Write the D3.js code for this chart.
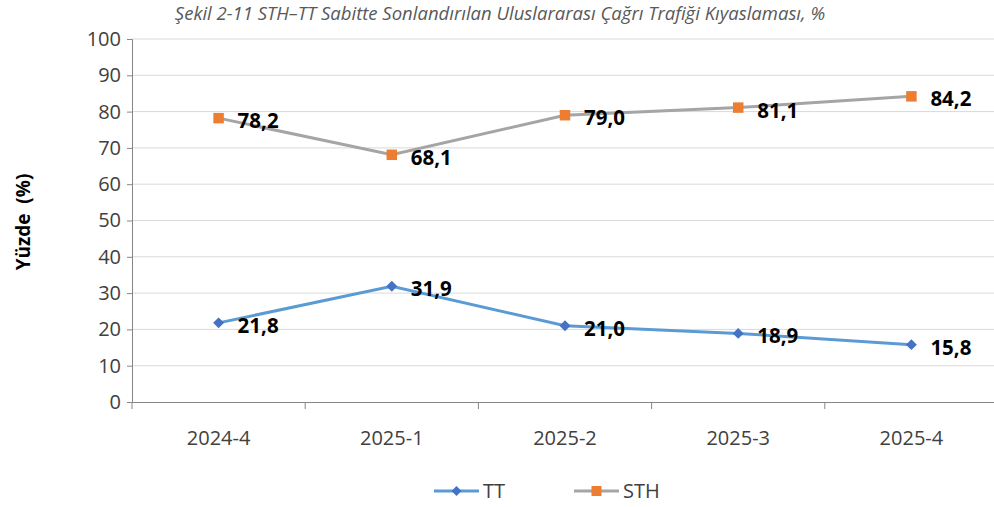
<!DOCTYPE html>
<html>
<head>
<meta charset="utf-8">
<script src="https://cdn.jsdelivr.net/npm/d3@7"></script>
<style>
  body { margin: 0; background: #fff; }
  svg { display: block; }
</style>
</head>
<body>
<svg id="chart" width="994" height="507"></svg>
<script>
let categories = ['2024-4', '2025-1', '2025-2', '2025-3', '2025-4'];
let ttValues = [21.8, 31.9, 21.0, 18.9, 15.8];
let sthValues = [78.2, 68.1, 79.0, 81.1, 84.2];
let yTicks = [0, 10, 20, 30, 40, 50, 60, 70, 80, 90, 100];

let chart = d3.select('#chart');
let font = "'Open Sans', 'Noto Sans', sans-serif";

let xScale = d3.scaleBand().domain(categories).range([132, 998]);
let yScale = d3.scaleLinear().domain([0, 100]).range([402, 39]);

// title
chart.append('text')
  .attr('x', 500).attr('y', 20)
  .attr('text-anchor', 'middle')
  .attr('font-family', font)
  .attr('font-style', 'italic')
  .attr('font-size', 18.5)
  .attr('fill', '#595959')
  .text('Şekil 2-11 STH–TT Sabitte Sonlandırılan Uluslararası Çağrı Trafiği Kıyaslaması, %');

// gridlines
chart.append('g').selectAll('line')
  .data(yTicks.filter(d => d > 0))
  .enter().append('line')
  .attr('x1', 132).attr('x2', 998)
  .attr('y1', d => yScale(d)).attr('y2', d => yScale(d))
  .attr('stroke', '#d9d9d9').attr('stroke-width', 1);

// y axis
let yAxis = d3.axisLeft(yScale).tickValues(yTicks).tickSize(5).tickPadding(6);
let yG = chart.append('g').attr('transform', 'translate(132,0)').call(yAxis);
yG.select('.domain').attr('stroke', '#868686');
yG.selectAll('.tick line').attr('stroke', '#868686');
yG.selectAll('.tick text')
  .attr('font-family', font).attr('font-size', 20).attr('fill', '#404040');

// x axis
let xAxis = d3.axisBottom(xScale).tickSize(0).tickPadding(0);
let xG = chart.append('g').attr('transform', 'translate(0,402)').call(xAxis);
xG.select('.domain').attr('stroke', '#868686');
xG.selectAll('.tick text')
  .attr('dy', 0).attr('y', 43)
  .attr('font-family', font).attr('font-size', 20).attr('fill', '#404040');
// category separators
xG.append('g').selectAll('line')
  .data(categories.concat(['end']))
  .enter().append('line')
  .attr('x1', (d, i) => 132 + i * xScale.step())
  .attr('x2', (d, i) => 132 + i * xScale.step())
  .attr('y1', 0).attr('y2', 7)
  .attr('stroke', '#868686');

// y axis title
chart.append('text')
  .attr('transform', 'translate(30,222) rotate(-90)')
  .attr('text-anchor', 'middle')
  .attr('font-family', font)
  .attr('font-weight', 'bold')
  .attr('font-size', 19)
  .attr('fill', '#000')
  .attr('xml:space', 'preserve')
  .style('white-space', 'pre')
  .text('Yüzde  (%)');

let cx = d => xScale(d) + xScale.bandwidth() / 2;
let line = d3.line()
  .x((d, i) => cx(categories[i]))
  .y(d => yScale(d));

let series = [
  { name: 'TT', values: ttValues, lineColor: '#5b9bd5', markerColor: '#4472c4' },
  { name: 'STH', values: sthValues, lineColor: '#a5a5a5', markerColor: '#ed7d31' }
];

series.forEach(function(s) {
  chart.append('path')
    .datum(s.values)
    .attr('fill', 'none')
    .attr('stroke', s.lineColor)
    .attr('stroke-width', 3)
    .attr('d', line);

  chart.append('g').selectAll('path')
    .data(s.values)
    .enter().append('path')
    .attr('d', d3.symbol().type(d3.symbolSquare).size(s.name === 'TT' ? 60 : 110))
    .attr('transform', (d, i) => 'translate(' + cx(categories[i]) + ',' + yScale(d) + ')' + (s.name === 'TT' ? ' rotate(45)' : ''))
    .attr('fill', s.markerColor);

  chart.append('g').selectAll('text')
    .data(s.values)
    .enter().append('text')
    .attr('x', (d, i) => cx(categories[i]) + 19)
    .attr('y', d => yScale(d) + 10)
    .attr('font-family', font)
    .attr('font-weight', 'bold')
    .attr('font-size', 20.5)
    .attr('fill', '#000')
    .text(d => d.toFixed(1).replace('.', ','));
});

// legend
let legend = chart.append('g');
[{ s: series[0], x: 434 }, { s: series[1], x: 574 }].forEach(function(l) {
  legend.append('line')
    .attr('x1', l.x).attr('x2', l.x + 45)
    .attr('y1', 491).attr('y2', 491)
    .attr('stroke', l.s.lineColor).attr('stroke-width', 3);
  legend.append('path')
    .attr('d', d3.symbol().type(d3.symbolSquare).size(l.s.name === 'TT' ? 50 : 100))
    .attr('transform', 'translate(' + (l.x + 22.5) + ',491)' + (l.s.name === 'TT' ? ' rotate(45)' : ''))
    .attr('fill', l.s.markerColor);
  legend.append('text')
    .attr('x', l.x + 49).attr('y', 498)
    .attr('font-family', font)
    .attr('font-size', 20)
    .attr('fill', '#404040')
    .text(l.s.name);
});
</script>
</body>
</html>
